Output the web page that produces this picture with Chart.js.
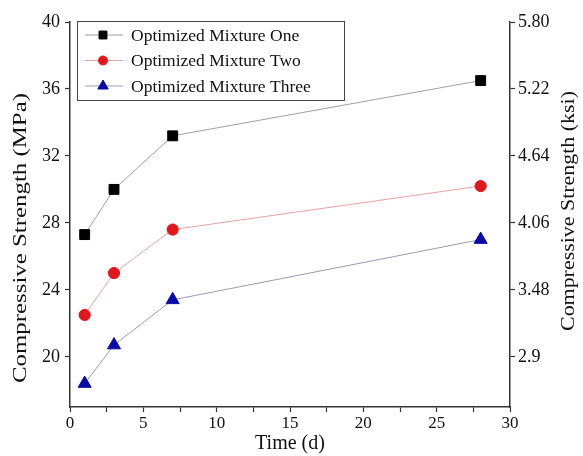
<!DOCTYPE html>
<html>
<head>
<meta charset="utf-8">
<script src="https://cdn.jsdelivr.net/npm/chart.js@4/dist/chart.umd.min.js"></script>
<style>
    html, body { margin: 0; padding: 0; background: #fff; }
    #wrap { width: 583px; height: 456px; }
</style>
</head>
<body>
<div id="wrap"><canvas id="strengthChart" width="583" height="456"></canvas></div>
<script>
// curing time (days)
const days = [1, 3, 7, 28];

// compressive strength, MPa
const mixtureOne = [27.3, 30.0, 33.2, 36.5];
const mixtureTwo = [22.5, 25.0, 27.6, 30.2];
const mixtureThree = [18.4, 20.7, 23.4, 27.0];

const seriesNames = ["Optimized Mixture One", "Optimized Mixture Two", "Optimized Mixture Three"];

const mpaTicks = [20, 24, 28, 32, 36, 40];
const ksiTicks = ["2.9", "3.48", "4.06", "4.64", "5.22", "5.80"];
const timeTicks = [0, 5, 10, 15, 20, 25, 30];

const MPA_TO_KSI = 0.145;
const MPA_MIN = 17;
const MPA_MAX = 40;

const FONT = "'Liberation Serif', 'Times New Roman', serif";
const AXIS_COLOR = "#333";
const TEXT_COLOR = "#111";

function points(values) {
    return values.map((v, i) => ({ x: days[i], y: v }));
}

// legend drawn inside the plot, line + marker like the original
const insideLegend = {
    id: "insideLegend",
    afterDraw(chart) {
        const ctx = chart.ctx;
        const box = { x: 77, y: 21, w: 267, h: 79 };
        ctx.save();
        ctx.fillStyle = "#fff";
        ctx.fillRect(box.x, box.y, box.w, box.h);
        ctx.strokeStyle = "#444";
        ctx.lineWidth = 1;
        ctx.strokeRect(box.x + 0.5, box.y + 0.5, box.w, box.h);

        chart.data.datasets.forEach((ds, i) => {
            const cy = box.y + 14 + i * 25.5;
            ctx.strokeStyle = ds.borderColor;
            ctx.lineWidth = 1;
            ctx.beginPath();
            ctx.moveTo(box.x + 8, cy);
            ctx.lineTo(box.x + 46, cy);
            ctx.stroke();

            ctx.fillStyle = ds.pointBackgroundColor;
            ctx.strokeStyle = ds.pointBorderColor;
            Chart.helpers.drawPoint(ctx, {
                pointStyle: ds.pointStyle,
                radius: ds.pointRadius * 0.8,
                borderWidth: 1,
                rotation: 0,
            }, box.x + 26, cy);

            ctx.fillStyle = TEXT_COLOR;
            ctx.font = "17.5px " + FONT;
            ctx.textBaseline = "middle";
            ctx.textAlign = "left";
            ctx.fillText(ds.label, box.x + 54, cy + 1);
        });
        ctx.restore();
    },
};

// vertical axis titles, both reading bottom-to-top and a bit stretched like the source image
function drawVerticalTitle(ctx, text, x, y, size, length) {
    ctx.save();
    ctx.font = size + "px " + FONT;
    const w = ctx.measureText(text).width;
    ctx.translate(x, y);
    ctx.rotate(-Math.PI / 2);
    ctx.scale(length / w, 1);
    ctx.fillStyle = TEXT_COLOR;
    ctx.textAlign = "center";
    ctx.textBaseline = "middle";
    ctx.fillText(text, 0, 0);
    ctx.restore();
}

const axisTitles = {
    id: "axisTitles",
    afterDraw(chart) {
        const ctx = chart.ctx;
        drawVerticalTitle(ctx, "Compressive Strength (MPa)", 21, 238, 18.5, 290);
        drawVerticalTitle(ctx, "Compressive Strength (ksi)", 569, 211, 18, 240);
    },
};

const makeDataset = (label, values, color, lineColor, style, radius) => ({
    label,
    data: points(values),
    borderColor: lineColor,
    borderWidth: 1,
    pointStyle: style,
    pointRadius: radius,
    pointHoverRadius: radius,
    pointBackgroundColor: color,
    pointBorderColor: color,
    pointBorderWidth: 1,
    tension: 0,
    fill: false,
    yAxisID: "y",
});

new Chart(document.getElementById("strengthChart").getContext("2d"), {
    type: "line",

    data: {
        datasets: [
            makeDataset(seriesNames[0], mixtureOne, "#000", "#a0a0a0", "rect", 7),
            makeDataset(seriesNames[1], mixtureTwo, "#e3161b", "#e6a3a3", "circle", 5.6),
            makeDataset(seriesNames[2], mixtureThree, "#0a0aa8", "#9a9ab8", "triangle", 7.5),
        ],
    },

    options: {
        responsive: false,
        animation: false,
        events: [],

        layout: {
            padding: { top: 22, left: 0, right: 0, bottom: 0 },
        },

        plugins: {
            legend: { display: false },
            tooltip: { enabled: false },
        },

        scales: {
            x: {
                type: "linear",
                min: 0,
                max: 30,
                afterBuildTicks(scale) {
                    const all = [];
                    for (let i = 0; i < timeTicks.length; i++) {
                        all.push({ value: timeTicks[i] });
                        if (i < timeTicks.length - 1) {
                            all.push({ value: (timeTicks[i] + timeTicks[i + 1]) / 2, minor: true });
                        }
                    }
                    scale.ticks = all;
                },
                afterFit(scale) {
                    scale.height = 49;
                },
                ticks: {
                    autoSkip: false,
                    maxRotation: 0,
                    padding: 1,
                    color: TEXT_COLOR,
                    font: { family: FONT, size: 17 },
                    callback: (v) => (timeTicks.includes(v) ? String(v) : ""),
                },
                grid: {
                    drawOnChartArea: false,
                    drawTicks: true,
                    tickLength: 5,
                    tickColor: AXIS_COLOR,
                    tickWidth: 1.2,
                },
                border: { color: AXIS_COLOR, width: 1.5 },
                title: {
                    display: true,
                    text: "Time (d)",
                    color: TEXT_COLOR,
                    font: { family: FONT, size: 20 },
                    padding: { top: 0, bottom: 0 },
                },
            },

            y: {
                type: "linear",
                position: "left",
                min: MPA_MIN,
                max: MPA_MAX,
                afterBuildTicks(scale) {
                    scale.ticks = mpaTicks.map((v) => ({ value: v }));
                },
                afterFit(scale) {
                    scale.width = 70;
                },
                ticks: {
                    padding: 5,
                    color: TEXT_COLOR,
                    font: { family: FONT, size: 18 },
                },
                grid: {
                    drawOnChartArea: false,
                    tickLength: 5,
                    tickColor: AXIS_COLOR,
                    tickWidth: 1.2,
                },
                border: { color: AXIS_COLOR, width: 1.5 },
            },

            y2: {
                type: "linear",
                position: "right",
                min: MPA_MIN * MPA_TO_KSI,
                max: MPA_MAX * MPA_TO_KSI,
                afterBuildTicks(scale) {
                    scale.ticks = ksiTicks.map((t) => ({ value: parseFloat(t) }));
                },
                afterFit(scale) {
                    scale.width = 73;
                },
                ticks: {
                    padding: 3,
                    color: TEXT_COLOR,
                    font: { family: FONT, size: 18 },
                    callback: (v) => ksiTicks.find((t) => Math.abs(parseFloat(t) - v) < 1e-6) || "",
                },
                grid: {
                    drawOnChartArea: false,
                    tickLength: 5,
                    tickColor: AXIS_COLOR,
                    tickWidth: 1.2,
                },
                border: { color: AXIS_COLOR, width: 1.5 },
            },
        },
    },

    plugins: [insideLegend, axisTitles],
});
</script>
</body>
</html>
